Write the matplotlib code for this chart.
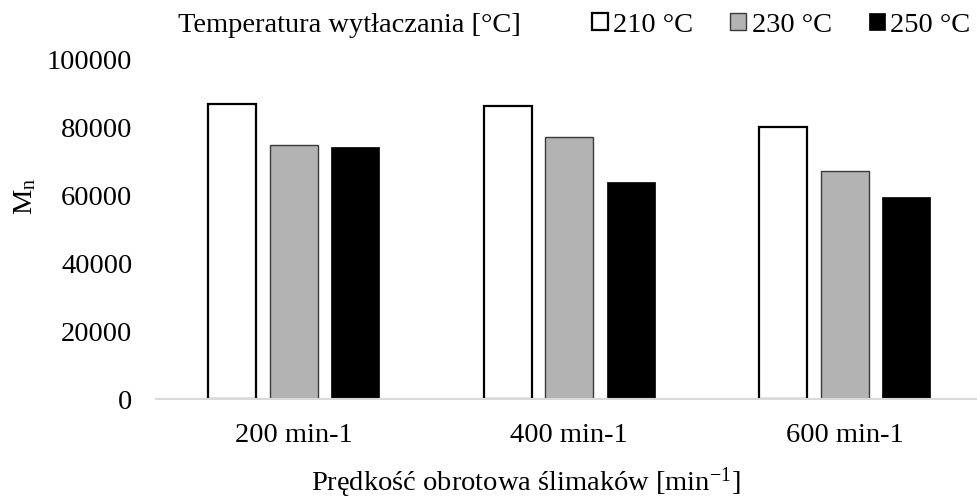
import matplotlib
matplotlib.use("Agg")
import matplotlib.pyplot as plt
import numpy as np

plt.rcParams["font.family"] = ["Liberation Serif", "DejaVu Serif"]
plt.rcParams["mathtext.fontset"] = "custom"
plt.rcParams["mathtext.rm"] = "Liberation Serif"
plt.rcParams["mathtext.it"] = "Liberation Serif:italic"

# Screw speed groups and extrusion temperature series
categories = ["200 min-1", "400 min-1", "600 min-1"]
series_labels = ["210 °C", "230 °C", "250 °C"]
mn_210 = [86600, 86000, 79900]
mn_230 = [74600, 76800, 67000]
mn_250 = [73900, 63600, 59200]
y_ticks = [0, 20000, 40000, 60000, 80000, 100000]

FS = 20.5
fig = plt.figure(figsize=(9.78, 5.02), dpi=100)
ax = fig.add_axes([156 / 978, 102.5 / 502, 826.5 / 978, 340 / 502])

x = np.arange(len(categories))
w = 0.174
step = 0.2225
styles = [
    dict(facecolor="white", edgecolor="black", linewidth=1.6),
    dict(facecolor="#b3b3b3", edgecolor="#3a3a3a", linewidth=1.0),
    dict(facecolor="black", edgecolor="black", linewidth=0.5),
]
handles = []
for i, (vals, lab, st) in enumerate(zip([mn_210, mn_230, mn_250], series_labels, styles)):
    b = ax.bar(x + (i - 1) * step, vals, width=w, label=lab, zorder=2, **st)
    handles.append(b)

ax.set_xlim(-0.5, 2.5)
ax.set_ylim(0, 100000)
ax.set_yticks(y_ticks)
ax.set_yticklabels([str(v) for v in y_ticks], fontsize=FS)
ax.set_xticks(x)
ax.set_xticklabels(categories, fontsize=FS)
ax.tick_params(axis="both", length=0)
ax.tick_params(axis="y", pad=17)
ax.tick_params(axis="x", pad=17)
for side in ["top", "right", "left"]:
    ax.spines[side].set_visible(False)
ax.spines["bottom"].set_color("#d9d9d9")
ax.spines["bottom"].set_linewidth(1.5)
ax.spines["bottom"].set_zorder(3)

# Axis titles
fig.text(25 / 978, 1 - 196 / 502, r"M$_\mathregular{n}$", rotation=90,
         ha="center", va="center", fontsize=FS)
fig.text(526 / 978, 1 - 483 / 502,
         r"Prędkość obrotowa ślimaków [min$^{\mathregular{-1}}$]",
         ha="center", va="center", fontsize=FS)

# Legend with its title on the left
fig.text(178 / 978, 1 - 25 / 502, "Temperatura wytłaczania [°C]",
         ha="left", va="center", fontsize=FS)
fig.legend(handles=handles, labels=series_labels, loc="center left",
           bbox_to_anchor=(592 / 978, 1 - 26 / 502), ncol=3, frameon=False,
           fontsize=FS, handlelength=0.55, handleheight=0.55,
           handletextpad=0.2, columnspacing=1.3, borderpad=0,
           borderaxespad=0)

fig.savefig("out.png", dpi=100)
